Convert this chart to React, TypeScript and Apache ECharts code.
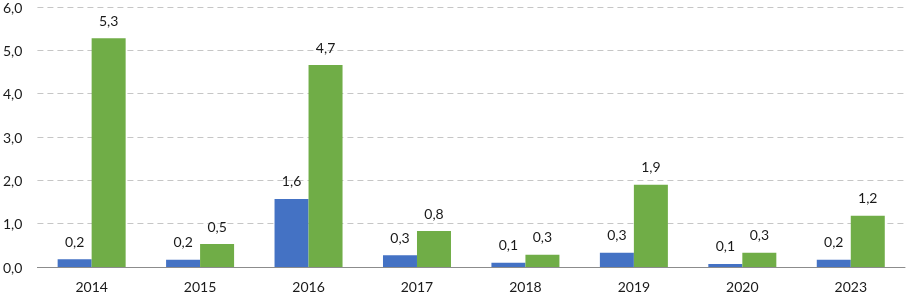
import React, { useEffect, useRef } from "react";
import * as echarts from "echarts";

const categories = ["2014", "2015", "2016", "2017", "2018", "2019", "2020", "2023"];
const blueValues = [0.18, 0.17, 1.57, 0.27, 0.1, 0.33, 0.07, 0.17];
const greenValues = [5.28, 0.53, 4.66, 0.83, 0.28, 1.9, 0.33, 1.18];
const yTicks = { min: 0, max: 6, interval: 1 };

const fmt = (v: number) => v.toFixed(1).replace(".", ",");

export default function App() {
  const ref = useRef<HTMLDivElement>(null);
  useEffect(() => {
    document.body.style.margin = "0";
    const chart = echarts.init(ref.current!, null, { renderer: "svg" });
    const font = "Lato, 'Open Sans', sans-serif";
    const labelCfg = {
      show: true,
      position: "top" as const,
      distance: 11,
      color: "#1a1a1a",
      fontSize: 14,
      fontFamily: font,
      formatter: (p: any) => fmt(p.value),
    };
    chart.setOption({
      animation: false,
      grid: { left: 35, right: 1, top: 6, bottom: 27, containLabel: false },
      xAxis: {
        type: "category",
        data: categories,
        axisTick: { show: false },
        axisLine: { lineStyle: { color: "#8c8c8c", width: 1 } },
        axisLabel: { color: "#1a1a1a", fontSize: 14, fontFamily: font, margin: 12 },
      },
      yAxis: {
        type: "value",
        min: yTicks.min,
        max: yTicks.max,
        interval: yTicks.interval,
        axisLine: { show: false },
        axisTick: { show: false },
        axisLabel: {
          color: "#1a1a1a",
          fontSize: 14,
          fontFamily: font,
          margin: 15,
          formatter: (v: number) => fmt(v),
        },
        splitLine: { lineStyle: { color: "#c6c6c6", type: [6, 4], width: 1 } },
      },
      series: [
        {
          type: "bar",
          data: blueValues,
          barWidth: 34,
          barGap: "0%",
          itemStyle: { color: "#4472C4" },
          label: labelCfg,
        },
        {
          type: "bar",
          data: greenValues,
          barWidth: 34,
          barGap: "0%",
          itemStyle: { color: "#70AD47" },
          label: labelCfg,
        },
      ],
    });
    return () => chart.dispose();
  }, []);
  return <div ref={ref} style={{ position: "fixed", left: 0, top: 0, width: 906, height: 294 }} />;
}
